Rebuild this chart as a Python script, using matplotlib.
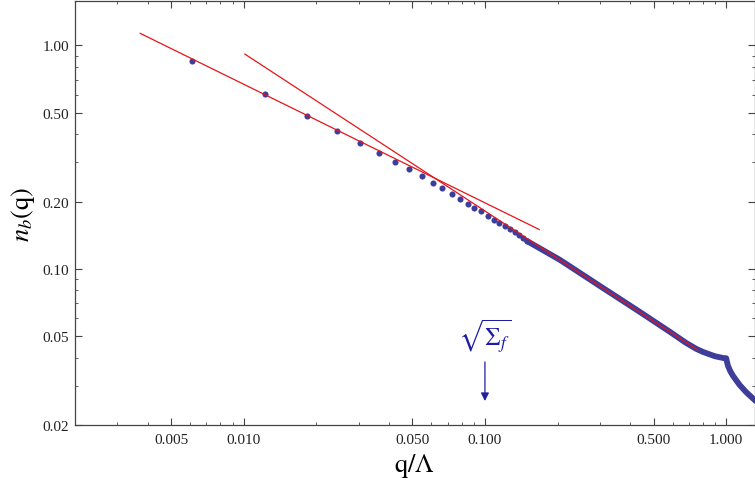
import numpy as np
import matplotlib
matplotlib.use('Agg')
import matplotlib.pyplot as plt
from matplotlib.ticker import LogLocator, FuncFormatter, NullFormatter

# discrete momentum points (small q)
dot_q = [0.00612, 0.01224, 0.01836, 0.02441, 0.03038, 0.03649, 0.04246, 0.04851,
         0.05472, 0.06074, 0.06661, 0.07276, 0.07872, 0.08493, 0.09052, 0.09674,
         0.1027, 0.1087, 0.1148, 0.1206, 0.1266, 0.1327, 0.1388, 0.1445, 0.1497]
dot_n = [0.854, 0.603, 0.485, 0.415, 0.366, 0.330, 0.301, 0.279,
         0.259, 0.243, 0.229, 0.217, 0.206, 0.196, 0.188, 0.181,
         0.173, 0.166, 0.160, 0.155, 0.150, 0.146, 0.141, 0.137, 0.133]

# dense part, where the points merge into a thick band
curve_q = [0.1497, 0.2045, 0.2995, 0.4313, 0.5834, 0.68, 0.7525, 0.80, 0.8546,
           0.90, 0.9399, 0.97, 1.0,
           1.006, 1.017, 1.040, 1.067, 1.137, 1.212, 1.300, 1.40]
curve_n = [0.133, 0.1097, 0.0838, 0.0649, 0.0523, 0.0467, 0.0438, 0.0425, 0.0414,
           0.0406, 0.0402, 0.0399, 0.0398,
           0.0386, 0.0368, 0.0348, 0.0332, 0.0302, 0.0280, 0.0261, 0.0243]

# power-law fits (end points)
fit1_q = [0.003726, 0.1678]
fit1_n = [1.132, 0.150]
fit2_q = [0.01012, 0.762]
fit2_n = [0.914, 0.0433]

blue = '#3d3d9c'
red = '#e8141a'

plt.rcParams['mathtext.fontset'] = 'stix'
plt.rcParams['font.family'] = ['Liberation Serif', 'DejaVu Serif']

fig = plt.figure(figsize=(7.55, 4.89), dpi=100)
ax = fig.add_axes([75 / 755, 1 - 426 / 489, 679.5 / 755, 424 / 489])

ax.plot(curve_q, curve_n, color=blue, lw=4.2, solid_capstyle='round',
        solid_joinstyle='round', zorder=2)
ax.plot(dot_q, dot_n, 'o', color=blue, ms=4.4, mec='none', zorder=2)
ax.plot(fit1_q, fit1_n, color=red, lw=0.9, zorder=3)
ax.plot(fit2_q, fit2_n, color=red, lw=0.9, zorder=3)

ax.set_xscale('log')
ax.set_yscale('log')
ax.set_xlim(0.002, 1.31)
ax.set_ylim(0.02, 1.58)

ax.xaxis.set_major_locator(LogLocator(subs=(1.0, 5.0)))
ax.xaxis.set_minor_locator(LogLocator(subs=(2.0, 3.0, 4.0, 6.0, 7.0, 8.0, 9.0)))
ax.xaxis.set_major_formatter(FuncFormatter(lambda v, p: f'{v:.3f}'))
ax.xaxis.set_minor_formatter(NullFormatter())
ax.yaxis.set_major_locator(LogLocator(subs=(1.0, 2.0, 5.0)))
ax.yaxis.set_minor_locator(LogLocator(subs=(3.0, 4.0, 6.0, 7.0, 8.0, 9.0)))
ax.yaxis.set_major_formatter(FuncFormatter(lambda v, p: f'{v:.2f}'))
ax.yaxis.set_minor_formatter(NullFormatter())

ax.tick_params(which='both', direction='in', top=True, right=True,
               colors='#444444', labelcolor='#222222', labelsize=11)
ax.tick_params(which='major', length=5, width=0.8)
ax.tick_params(which='minor', length=2.5, width=0.6)
ax.tick_params(axis='x', pad=6)
ax.tick_params(axis='y', pad=4)
for s in ax.spines.values():
    s.set_color('#444444')
    s.set_linewidth(0.9)

ax.set_xlabel(r'$\mathrm{q}/\Lambda$', fontsize=19)
ax.set_ylabel(r'$n_b(\mathrm{q})$', fontsize=19)
ax.xaxis.set_label_coords(0.5, -0.062)
ax.yaxis.set_label_coords(-0.056, 0.5)

# sqrt(Sigma_f) marker
ax.annotate('', xy=(0.1, 0.0256), xytext=(0.1, 0.0383),
            arrowprops=dict(arrowstyle='-|>', color='#2020a0', lw=0.9,
                            mutation_scale=12, shrinkA=0, shrinkB=0))
ax.text(0.1, 0.0503, r'$\sqrt{\Sigma_f}$', color='#1c1ca8', fontsize=18,
        ha='center', va='center')

fig.savefig('out.png', dpi=100)
